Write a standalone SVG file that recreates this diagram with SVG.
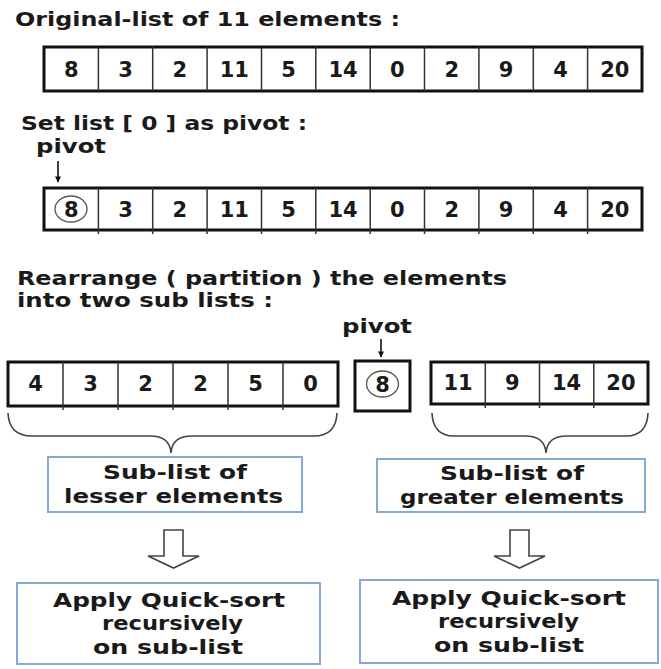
<svg xmlns="http://www.w3.org/2000/svg" width="661" height="669" viewBox="0 0 661 669">
<style>
.lbl{font-family:"DejaVu Sans","Liberation Sans",sans-serif;font-weight:bold;font-size:20px;fill:#1a1a1a}
.num{font-family:"DejaVu Sans","Liberation Sans",sans-serif;font-weight:bold;font-size:21px;fill:#1a1a1a;text-anchor:middle}
.box{fill:#fff;stroke:#111;stroke-width:3}
.div{stroke:#333;stroke-width:1.5}
.circ{fill:none;stroke:#555;stroke-width:1.3}
.sub{fill:#fff;stroke:#86aad8;stroke-width:2}
.btxt{font-family:"DejaVu Sans","Liberation Sans",sans-serif;font-weight:bold;font-size:19px;fill:#1a1a1a}
.brace{fill:none;stroke:#444;stroke-width:1.6}
.hollow{fill:#fff;stroke:#444;stroke-width:1.6;stroke-linejoin:miter}
.conn{stroke:#111;stroke-width:1.6}
</style>
<defs>
<marker id="ah" viewBox="0 0 10 10" refX="9" refY="5" markerWidth="7" markerHeight="6" orient="auto" markerUnits="userSpaceOnUse"><path d="M0,0 L10,5 L0,10 z" fill="#111"/></marker>
</defs>
<rect width="661" height="669" fill="#fff"/>

<g id="title1"><text class="lbl" x="15" y="26" textLength="385" lengthAdjust="spacingAndGlyphs">Original-list of 11 elements :</text></g>

<g id="list1">
<rect class="box" x="44" y="47" width="598" height="44"/>
<line class="div" x1="98.4" y1="47" x2="98.4" y2="91"/>
<line class="div" x1="152.7" y1="47" x2="152.7" y2="91"/>
<line class="div" x1="207.1" y1="47" x2="207.1" y2="91"/>
<line class="div" x1="261.5" y1="47" x2="261.5" y2="91"/>
<line class="div" x1="315.8" y1="47" x2="315.8" y2="91"/>
<line class="div" x1="370.2" y1="47" x2="370.2" y2="91"/>
<line class="div" x1="424.5" y1="47" x2="424.5" y2="91"/>
<line class="div" x1="478.9" y1="47" x2="478.9" y2="91"/>
<line class="div" x1="533.3" y1="47" x2="533.3" y2="91"/>
<line class="div" x1="587.6" y1="47" x2="587.6" y2="91"/>
<text class="num" x="71.2" y="77">8</text>
<text class="num" x="125.5" y="77">3</text>
<text class="num" x="179.9" y="77">2</text>
<text class="num" x="234.3" y="77">11</text>
<text class="num" x="288.6" y="77">5</text>
<text class="num" x="343" y="77">14</text>
<text class="num" x="397.4" y="77">0</text>
<text class="num" x="451.7" y="77">2</text>
<text class="num" x="506.1" y="77">9</text>
<text class="num" x="560.5" y="77">4</text>
<text class="num" x="614.8" y="77">20</text>
</g>

<g id="title2"><text class="lbl" x="21" y="130" textLength="286" lengthAdjust="spacingAndGlyphs">Set list [ 0 ] as pivot :</text></g>
<g id="pivotlabel1"><text class="lbl" x="36" y="153" textLength="70" lengthAdjust="spacingAndGlyphs">pivot</text></g>

<g id="list2">
<rect class="box" x="44" y="188" width="598" height="42"/>
<line class="div" x1="98.4" y1="188" x2="98.4" y2="234"/>
<line class="div" x1="152.7" y1="188" x2="152.7" y2="234"/>
<line class="div" x1="207.1" y1="188" x2="207.1" y2="234"/>
<line class="div" x1="261.5" y1="188" x2="261.5" y2="234"/>
<line class="div" x1="315.8" y1="188" x2="315.8" y2="234"/>
<line class="div" x1="370.2" y1="188" x2="370.2" y2="234"/>
<line class="div" x1="424.5" y1="188" x2="424.5" y2="234"/>
<line class="div" x1="478.9" y1="188" x2="478.9" y2="234"/>
<line class="div" x1="533.3" y1="188" x2="533.3" y2="234"/>
<line class="div" x1="587.6" y1="188" x2="587.6" y2="234"/>
<ellipse class="circ" cx="71" cy="209" rx="16" ry="13"/>
<text class="num" x="71.2" y="216.5">8</text>
<text class="num" x="125.5" y="216.5">3</text>
<text class="num" x="179.9" y="216.5">2</text>
<text class="num" x="234.3" y="216.5">11</text>
<text class="num" x="288.6" y="216.5">5</text>
<text class="num" x="343" y="216.5">14</text>
<text class="num" x="397.4" y="216.5">0</text>
<text class="num" x="451.7" y="216.5">2</text>
<text class="num" x="506.1" y="216.5">9</text>
<text class="num" x="560.5" y="216.5">4</text>
<text class="num" x="614.8" y="216.5">20</text>
</g>

<g id="title3">
<text class="lbl" x="17" y="285" textLength="490" lengthAdjust="spacingAndGlyphs">Rearrange ( partition ) the elements</text>
<text class="lbl" x="17" y="307" textLength="256" lengthAdjust="spacingAndGlyphs">into two sub lists :</text>
</g>
<g id="pivotlabel2"><text class="lbl" x="342" y="333" textLength="70" lengthAdjust="spacingAndGlyphs">pivot</text></g>

<g id="lesser-list">
<rect class="box" x="8" y="362" width="330" height="44"/>
<line class="div" x1="63" y1="362" x2="63" y2="410"/>
<line class="div" x1="118" y1="362" x2="118" y2="410"/>
<line class="div" x1="173" y1="362" x2="173" y2="410"/>
<line class="div" x1="228" y1="362" x2="228" y2="410"/>
<line class="div" x1="283" y1="362" x2="283" y2="410"/>
<text class="num" x="35.5" y="391">4</text>
<text class="num" x="90.5" y="391">3</text>
<text class="num" x="145.5" y="391">2</text>
<text class="num" x="200.5" y="391">2</text>
<text class="num" x="255.5" y="391">5</text>
<text class="num" x="310.5" y="391">0</text>
</g>

<g id="pivot-box">
<rect class="box" x="355" y="361" width="55" height="50"/>
<ellipse class="circ" cx="382.5" cy="384" rx="16" ry="13"/>
<text class="num" x="382.5" y="391.5">8</text>
</g>

<g id="greater-list">
<rect class="box" x="431" y="362" width="217" height="42"/>
<line class="div" x1="485.3" y1="362" x2="485.3" y2="408"/>
<line class="div" x1="539.5" y1="362" x2="539.5" y2="408"/>
<line class="div" x1="593.8" y1="362" x2="593.8" y2="408"/>
<text class="num" x="458.1" y="390">11</text>
<text class="num" x="512.4" y="390">9</text>
<text class="num" x="566.6" y="390">14</text>
<text class="num" x="620.9" y="390">20</text>
</g>

<g id="sub-lesser">
<rect class="sub" x="48" y="457" width="254" height="55"/>
<text class="btxt" x="103" y="479" textLength="144" lengthAdjust="spacingAndGlyphs">Sub-list of</text>
<text class="btxt" x="64" y="503" textLength="219" lengthAdjust="spacingAndGlyphs">lesser elements</text>
</g>
<g id="sub-greater">
<rect class="sub" x="377" y="459" width="268" height="53"/>
<text class="btxt" x="440" y="480" textLength="144" lengthAdjust="spacingAndGlyphs">Sub-list of</text>
<text class="btxt" x="400" y="504" textLength="224" lengthAdjust="spacingAndGlyphs">greater elements</text>
</g>

<g id="apply-left">
<rect class="sub" x="17" y="583" width="303" height="81"/>
<text class="btxt" x="53" y="607" textLength="232" lengthAdjust="spacingAndGlyphs">Apply Quick-sort</text>
<text class="btxt" x="102" y="630" textLength="141" lengthAdjust="spacingAndGlyphs">recursively</text>
<text class="btxt" x="93" y="654" textLength="150" lengthAdjust="spacingAndGlyphs">on sub-list</text>
</g>
<g id="apply-right">
<rect class="sub" x="360" y="580" width="298" height="83"/>
<text class="btxt" x="392" y="605" textLength="234" lengthAdjust="spacingAndGlyphs">Apply Quick-sort</text>
<text class="btxt" x="438" y="628" textLength="141" lengthAdjust="spacingAndGlyphs">recursively</text>
<text class="btxt" x="434" y="652" textLength="150" lengthAdjust="spacingAndGlyphs">on sub-list</text>
</g>

<g id="connectors">
<line class="conn" x1="58" y1="161" x2="58" y2="182" marker-end="url(#ah)"/>
<line class="conn" x1="381" y1="339" x2="381" y2="357" marker-end="url(#ah)"/>
<path class="brace" d="M8,413 Q9,436 32,436 L150,436 Q170,436 171,453 Q172,436 192,436 L314,436 Q336,436 337,413"/>
<path class="brace" d="M432,413 Q433,436 454,436 L525,436 Q545,436 546,453 Q547,436 567,436 L626,436 Q647,436 648,413"/>
<path class="hollow" d="M164,530 L183,530 L183,556 L199,556 L173.5,568 L148,556 L164,556 Z"/>
<path class="hollow" d="M510,530 L529,530 L529,556 L545,556 L519.5,568 L494,556 L510,556 Z"/>
</g>
</svg>
